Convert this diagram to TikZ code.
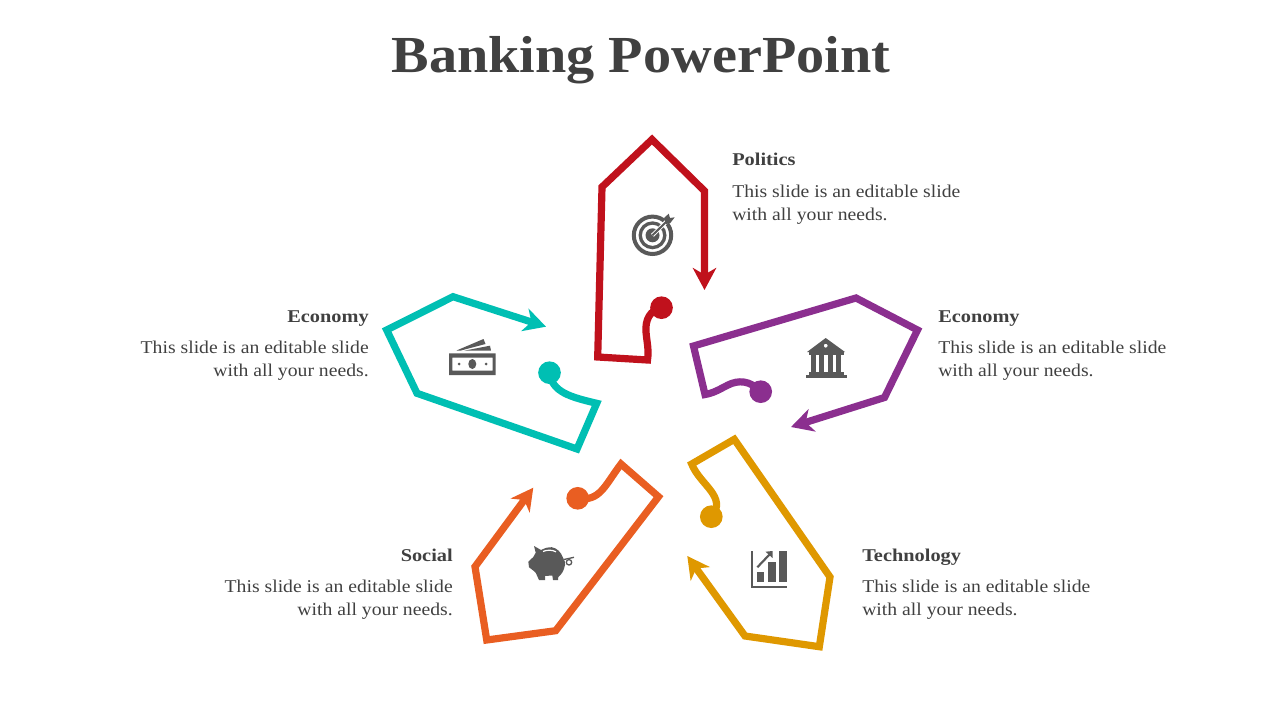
\documentclass[tikz,border=0pt]{standalone}
\usepackage{fontspec}
\usetikzlibrary{arrows.meta}
\setmainfont{Liberation Serif}
\definecolor{cred}{HTML}{C0111C}
\definecolor{cpurple}{HTML}{8B2F8F}
\definecolor{cteal}{HTML}{00BFB3}
\definecolor{corange}{HTML}{E95E22}
\definecolor{camber}{HTML}{DF9800}
\definecolor{cicon}{HTML}{595959}
\definecolor{ctext}{HTML}{404040}
\newfontfamily\bodyfont[FakeStretch=1.094]{Liberation Serif}
\newfontfamily\headfont[FakeStretch=1.13]{Liberation Serif}
\newfontfamily\titlefont[FakeStretch=1.082]{Liberation Serif}
\tikzset{
 x=0.75pt,y=-0.75pt,
 outline/.style={line width=5.4pt,miter limit=10,line join=miter,
   -{Stealth[length=16.5pt,width=17.5pt,inset=5pt]}},
 dot/.style={circle,inner sep=0pt,minimum size=17pt,fill=#1},
 head/.style={font=\headfont\bfseries\fontsize{13.5pt}{16pt}\selectfont,text=ctext,inner sep=0pt},
 body/.style={font=\bodyfont\fontsize{13.5pt}{17.25pt}\selectfont,text=ctext,inner sep=0pt},
}
\begin{document}
\begin{tikzpicture}
\useasboundingbox (0,0) rectangle (1280,720);
\node[font=\titlefont\bfseries\fontsize{39pt}{44pt}\selectfont,text=ctext,inner sep=0pt] (title) at (641,60) {Banking PowerPoint};

% shapes
\node[dot=cred] (d1) at (661.5,307.7) {};
\draw[outline,cred] (d1.center) .. controls (650,310) and (645,320) .. (646,332) .. controls (647,343) and (649,350) .. (647.5,360) -- (597.7,357) -- (602,187) -- (652,139.5) -- (704.5,191) -- (704.5,290);
\node[dot=cpurple] (d2) at (760.7,391.7) {};
\draw[outline,cpurple] (d2.center) .. controls (750,380) and (738,380) .. (728,385) .. controls (720,389) and (714,393) .. (705,394.5) -- (693.5,346) -- (856,298) -- (917.5,330) -- (884.5,397.5) -- (791,427);
\node[dot=cteal] (d3) at (549.5,372.7) {};
\draw[outline,cteal] (d3.center) .. controls (552,392) and (570,397) .. (596.7,403.3) -- (577,449) -- (417,393.3) -- (386.7,330) -- (453,296.7) -- (546,326.7);
\node[dot=corange] (d4) at (577.7,498.3) {};
\draw[outline,corange] (d4.center) .. controls (600,502) and (605,485) .. (621,464) -- (658.5,496.7) -- (555.7,630.7) -- (486.7,640) -- (475,566.7) -- (533.3,487.7);
\node[dot=camber] (d5) at (711.3,516.7) {};
\draw[outline,camber] (d5.center) .. controls (728,497) and (700,485) .. (691.7,464) -- (734.3,439.3) -- (830,577) -- (819.3,646.7) -- (745,636) -- (687.3,556);

% target
\draw[cicon,line width=3pt] (652.5,235.3) circle (18.7);
\draw[cicon,line width=2.5pt] (652.5,235.3) circle (12.3);
\fill[cicon] (652.5,235.3) circle (7);
\draw[white,line width=3pt] (652.5,235.3) -- (668,220);
\draw[cicon,line width=1.5pt] (652.5,235.3) -- (668,220);
\fill[cicon] (664,218) -- (668.7,213.7) -- (670,218) -- (674.7,217.3) -- (670.3,223) -- (666,224) -- cycle;

% bank
\fill[cicon,even odd rule] (825.7,338) -- (845,352) -- (807,352) -- cycle (825.7,345.7) circle (2);
\fill[cicon] (809,352) rectangle (844,354.5);
\foreach \cx in {813.5,821.5,830.5,838.5} \fill[cicon] (\cx-2.7,354.5) rectangle (\cx+2.7,372);
\fill[cicon] (809,372) rectangle (844,375);
\fill[cicon] (806,375) rectangle (847,377.5);

% money
\fill[cicon,even odd rule] (449,353.3) rectangle (495.7,375) (452.3,357.5) rectangle (492.5,370.5);
\fill[cicon] (472.3,364) ellipse (4 and 5);
\fill[cicon] (459,364) circle (1.5);
\fill[cicon] (486,364) circle (1.5);
\fill[cicon] (456.5,350.5) -- (483.5,339) -- (485.5,344) -- (461,350.5) -- cycle;
\fill[cicon] (464,350.7) -- (490,345.7) -- (491,350.7) -- cycle;

% pig
\fill[cicon] (534,546) -- (541,550) .. controls (546,547.5) and (549,547) .. (551.7,547.2)
  .. controls (557,548) and (561,552) .. (563.3,558.3) .. controls (565,561) and (565.5,563) .. (565,565)
  .. controls (564,571) and (561,575) .. (558.3,577) -- (558,580) -- (553,580) -- (552.3,575.5) -- (545,576) -- (545,580) -- (539,580) -- (535.7,572.7) .. controls (533,570) and (531,569) .. (529,567.3) -- (528.3,561.7) -- (533.3,557) -- (535.7,552.7) -- cycle;
\draw[white,line width=0.9pt] (543,551.5) .. controls (547,549.7) and (552,549.7) .. (556,551.8);
\draw[cicon,line width=1pt] (564,559.5) -- (574,557.3);
\draw[cicon,line width=1pt] (569,562.3) circle (2.7);

% chart
\fill[cicon] (750.7,550.7) rectangle (753.3,588.3);
\fill[cicon] (750.7,585.7) rectangle (787.3,588.3);
\fill[cicon] (756.7,571.7) rectangle (764.3,582.3);
\fill[cicon] (767.7,561.7) rectangle (775.7,582.3);
\fill[cicon] (779,550.7) rectangle (786.7,582.3);
\draw[cicon,line width=1.6pt] (757.3,567.3) -- (770,554);
\fill[cicon] (765.5,551.7) -- (772.5,551) -- (772.5,558) -- cycle;

% text
\node[head,anchor=base west] (t1) at (732,166) {Politics};
\node[body,anchor=north west,align=left] (b1) at (732,185) {This slide is an editable slide\\with all your needs.};
\node[head,anchor=base west] (t2) at (938,322) {Economy};
\node[body,anchor=north west,align=left] (b2) at (938,341) {This slide is an editable slide\\with all your needs.};
\node[head,anchor=base east] (t3) at (369,322) {Economy};
\node[body,anchor=north east,align=right] (b3) at (369,341) {This slide is an editable slide\\with all your needs.};
\node[head,anchor=base east] (t4) at (453,561) {Social};
\node[body,anchor=north east,align=right] (b4) at (453,580) {This slide is an editable slide\\with all your needs.};
\node[head,anchor=base west] (t5) at (862,561) {Technology};
\node[body,anchor=north west,align=left] (b5) at (862,580) {This slide is an editable slide\\with all your needs.};
\end{tikzpicture}
\end{document}
